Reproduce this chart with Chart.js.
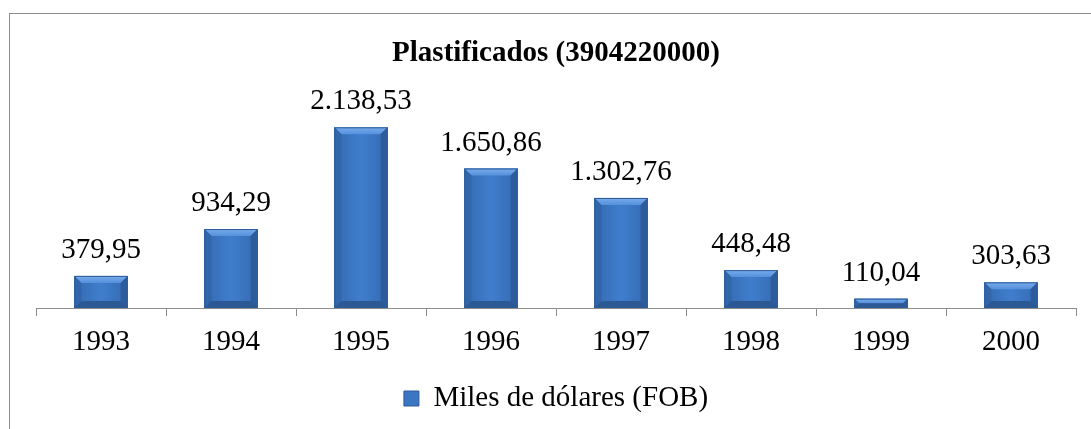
<!DOCTYPE html>
<html>
<head>
<meta charset="utf-8">
<script src="https://cdn.jsdelivr.net/npm/chart.js@4"></script>
<style>
  html, body { margin: 0; padding: 0; background: #fff; overflow: hidden; }
  #wrap { position: relative; width: 1091px; height: 429px; }
  #frame { position: absolute; left: 9px; top: 13px; width: 1200px; height: 600px; border: 1px solid #8c8c8c; box-sizing: border-box; }
  #grafica { position: absolute; left: 0; top: 0; }
</style>
</head>
<body>
<div id="wrap">
  <div id="frame"></div>
  <canvas id="grafica" width="1091" height="429"></canvas>
</div>
<script>
const anios = ['1993', '1994', '1995', '1996', '1997', '1998', '1999', '2000'];
const valores = [379.95, 934.29, 2138.53, 1650.86, 1302.76, 448.48, 110.04, 303.63];
const serie = 'Miles de dólares (FOB)';
const titulo = 'Plastificados (3904220000)';

const fuente = "'Liberation Serif', 'Times New Roman', serif";

// 1.234,56 style
const formato = (v) => {
  const [ent, dec] = v.toFixed(2).split('.');
  return `${ent.replace(/\B(?=(\d{3})+(?!\d))/g, '.')},${dec}`;
};

// gradient + bevel + value labels, drawn over the library's bars
const bisel = {
  id: 'bisel',
  afterDatasetsDraw(chart) {
    const { ctx } = chart;
    const meta = chart.getDatasetMeta(0);
    meta.data.forEach((bar, i) => {
      const { x, y, base, width } = bar.getProps(['x', 'y', 'base', 'width'], true);
      const l = x - width / 2;
      const r = x + width / 2;
      const h = base - y;
      const b = Math.min(7, h / 2);
      ctx.save();
      const g = ctx.createLinearGradient(l, 0, r, 0);
      g.addColorStop(0, '#3569b0');
      g.addColorStop(0.5, '#3f7ecd');
      g.addColorStop(1, '#3569b0');
      ctx.fillStyle = g;
      ctx.fillRect(l, y, width, h);
      // top
      const gt = ctx.createLinearGradient(0, y, 0, y + b);
      gt.addColorStop(0, '#7aaceb');
      gt.addColorStop(1, '#5490dc');
      ctx.fillStyle = gt;
      ctx.beginPath();
      ctx.moveTo(l, y); ctx.lineTo(r, y); ctx.lineTo(r - b, y + b); ctx.lineTo(l + b, y + b);
      ctx.closePath(); ctx.fill();
      // left
      ctx.fillStyle = '#3266aa';
      ctx.beginPath();
      ctx.moveTo(l, y); ctx.lineTo(l + b, y + b); ctx.lineTo(l + b, base - b); ctx.lineTo(l, base);
      ctx.closePath(); ctx.fill();
      // right
      ctx.fillStyle = '#2c5c9c';
      ctx.beginPath();
      ctx.moveTo(r, y); ctx.lineTo(r - b, y + b); ctx.lineTo(r - b, base - b); ctx.lineTo(r, base);
      ctx.closePath(); ctx.fill();
      // bottom
      ctx.fillStyle = '#2c5893';
      ctx.beginPath();
      ctx.moveTo(l, base); ctx.lineTo(l + b, base - b); ctx.lineTo(r - b, base - b); ctx.lineTo(r, base);
      ctx.closePath(); ctx.fill();
      ctx.strokeStyle = '#2d5b98';
      ctx.lineWidth = 1;
      ctx.strokeRect(l + 0.5, y + 0.5, width - 1, h - 1);
      // label
      ctx.fillStyle = '#000';
      ctx.font = `29px ${fuente}`;
      ctx.textAlign = 'center';
      ctx.textBaseline = 'alphabetic';
      ctx.fillText(formato(valores[i]), x, y - 18);
      ctx.restore();
    });
  },
};

// eslint-disable-next-line no-new, no-undef
new Chart(document.getElementById('grafica'), {
  type: 'bar',
  data: {
    labels: anios,
    datasets: [{
      label: serie,
      data: valores,
      backgroundColor: '#3b76c2',
      borderWidth: 0,
      categoryPercentage: 1,
      barPercentage: 0.41,
    }],
  },
  options: {
    responsive: false,
    animation: false,
    devicePixelRatio: 1,
    layout: { padding: { left: 36, right: 15, top: 0, bottom: 6 } },
    plugins: {
      tooltip: { enabled: false },
      title: {
        display: true,
        text: titulo,
        color: '#000',
        font: { family: fuente, size: 29, weight: 'bold' },
        padding: { top: 36, bottom: 26 },
      },
      legend: {
        position: 'bottom',
        labels: {
          color: '#000',
          font: { family: fuente, size: 29 },
          boxWidth: 15,
          boxHeight: 15,
          padding: 5,
          generateLabels: () => [{
            text: serie,
            fillStyle: '#3b76c2',
            strokeStyle: '#2d5b98',
            lineWidth: 1,
            hidden: false,
            datasetIndex: 0,
          }],
        },
      },
    },
    scales: {
      x: {
        grid: { display: true, offset: true, drawOnChartArea: false, tickLength: 8, color: '#8c8c8c' },
        border: { display: true, color: '#8c8c8c', width: 1 },
        ticks: { color: '#000', font: { family: fuente, size: 29 }, padding: 9 },
        afterFit: (scale) => { scale.height = 71; },
      },
      y: {
        display: false,
        min: 0,
        max: 2500,
      },
    },
  },
  plugins: [bisel],
});
</script>
</body>
</html>
